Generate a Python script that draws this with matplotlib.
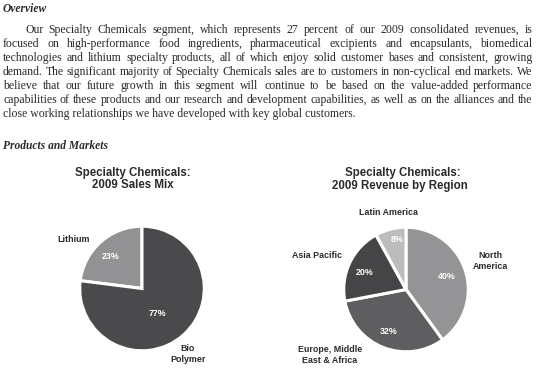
import matplotlib
matplotlib.use("Agg")
import matplotlib.pyplot as plt

W, H = 538, 391

# ---- data ----
overview_lines = [
    "Our Specialty Chemicals segment, which represents 27 percent of our 2009 consolidated revenues, is",
    "focused on high-performance food ingredients, pharmaceutical excipients and encapsulants, biomedical",
    "technologies and lithium specialty products, all of which enjoy solid customer bases and consistent, growing",
    "demand. The significant majority of Specialty Chemicals sales are to customers in non-cyclical end markets. We",
    "believe that our future growth in this segment will continue to be based on the value-added performance",
    "capabilities of these products and our research and development capabilities, as well as on the alliances and the",
    "close working relationships we have developed with key global customers.",
]

mix_labels = ["Lithium", "Bio\nPolymer"]
mix_values = [23, 77]
mix_colors = ["#929294", "#4a4a4c"]

region_labels = ["North\nAmerica", "Europe, Middle\nEast & Africa", "Asia Pacific", "Latin America"]
region_values = [40, 32, 20, 8]
region_colors = ["#949496", "#5e5e60", "#454547", "#bcbcbe"]

fig = plt.figure(figsize=(W / 100, H / 100), dpi=100)
fig.patch.set_facecolor("white")


def pie_axes(cx, cy, r):
    ax = fig.add_axes([(cx - r) / W, (H - cy - r) / H, 2 * r / W, 2 * r / H])
    ax.set_axis_off()
    return ax


# ---- pie 1 ----
ax1 = pie_axes(142, 288.5, 63.5)
ax1.pie(mix_values, colors=mix_colors, startangle=90, counterclock=True,
        wedgeprops=dict(edgecolor="white", linewidth=2.2), radius=1)
ax1.set_xlim(-1.02, 1.02)
ax1.set_ylim(-1.02, 1.02)

# ---- pie 2 ----
ax2 = pie_axes(406, 289.5, 63.5)
ax2.pie(region_values, colors=region_colors, startangle=90, counterclock=False,
        wedgeprops=dict(edgecolor="white", linewidth=2.2), radius=1)
ax2.set_xlim(-1.02, 1.02)
ax2.set_ylim(-1.02, 1.02)

# ---- overlay in pixel coordinates ----
ov = fig.add_axes([0, 0, 1, 1])
ov.set_xlim(0, W)
ov.set_ylim(H, 0)
ov.set_axis_off()
ov.patch.set_visible(False)

serif = "Liberation Serif"
sans = "Liberation Sans"
txt_color = "#2a2a2a"

ov.text(3, 12, "Overview", family=serif, style="italic", weight="bold",
        fontsize=8.3, va="baseline", ha="left", color=txt_color)
ov.text(3, 149, "Products and Markets", family=serif, style="italic", weight="bold",
        fontsize=8.3, va="baseline", ha="left", color=txt_color)

# justified paragraph
renderer = fig.canvas.get_renderer()


def width_of(s, fs):
    t = ov.text(0, 0, s, family=serif, fontsize=fs)
    w = t.get_window_extent(renderer).width
    t.remove()
    return w


x_right = 532.5
starts = [25] + [3] * (len(overview_lines) - 1)
ratios = []
for i, line in enumerate(overview_lines[:-1]):
    ratios.append((x_right - starts[i]) / width_of(line, 10))
fs_body = 10 * min(ratios) * 0.995

baselines = [33, 47, 61, 75, 89, 103, 117]
for i, line in enumerate(overview_lines):
    x0 = starts[i]
    y = baselines[i]
    if i == len(overview_lines) - 1:
        ov.text(x0, y, line, family=serif, fontsize=fs_body, va="baseline",
                ha="left", color=txt_color)
        continue
    words = line.split(" ")
    widths = [width_of(w_, fs_body) for w_ in words]
    gap = (x_right - x0 - sum(widths)) / (len(words) - 1)
    x = x0
    for w_, wd in zip(words, widths):
        ov.text(x, y, w_, family=serif, fontsize=fs_body, va="baseline",
                ha="left", color=txt_color)
        x += wd + gap

# titles
tkw = dict(family=sans, weight="bold", fontsize=8.3, ha="center", va="center", color=txt_color)
ov.text(132.5, 173.3, "Specialty Chemicals:", **tkw)
ov.text(132.5, 185.5, "2009 Sales Mix", **tkw)
ov.text(402.7, 173.3, "Specialty Chemicals:", **tkw)
ov.text(400, 185.5, "2009 Revenue by Region", **tkw)

lkw = dict(family=sans, weight="bold", fontsize=6.4, ha="center", va="center",
           color=txt_color, linespacing=1.3)
pkw = dict(family=sans, weight="bold", fontsize=6.4, ha="center", va="center", color="white")

# pie 1 labels
mix_label_pos = [(74, 240), (188, 353.8)]
mix_pct_pos = [(110.5, 256.7), (157, 313)]
for lab, v, (lx, ly), (px, py) in zip(mix_labels, mix_values, mix_label_pos, mix_pct_pos):
    ov.text(lx, ly, lab, **lkw)
    ov.text(px, py, f"{v}%", **pkw)

# pie 2 labels
reg_label_pos = [(490.5, 261.3), (330, 354.6), (316.7, 256), (388.3, 212.7)]
reg_pct_pos = [(446.7, 276.7), (388.7, 331.7), (364.3, 272.7), (396.7, 239.3)]
for lab, v, (lx, ly), (px, py) in zip(region_labels, region_values, reg_label_pos, reg_pct_pos):
    ov.text(lx, ly, lab, **lkw)
    ov.text(px, py, f"{v}%", **pkw)

fig.savefig("out.png", dpi=100, facecolor="white")
